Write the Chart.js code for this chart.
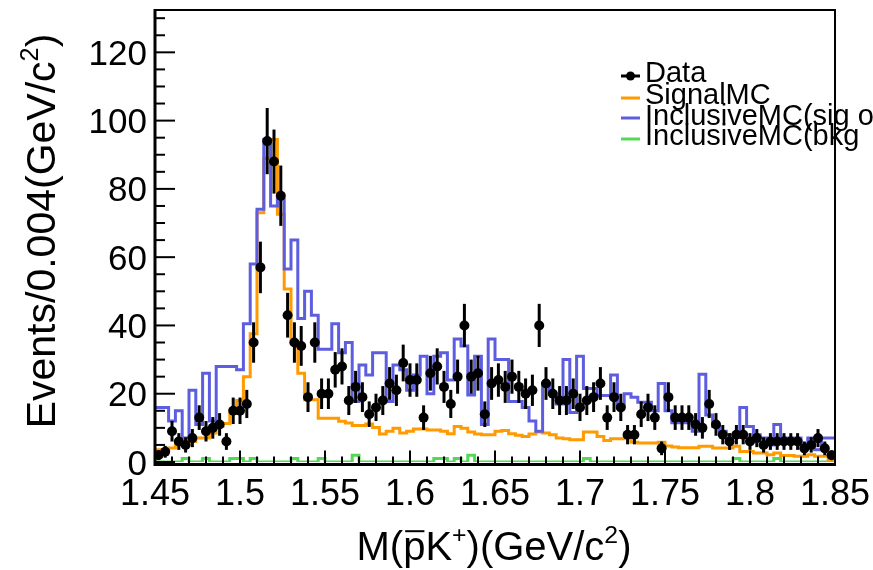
<!DOCTYPE html>
<html>
<head>
<meta charset="utf-8">
<script src="https://cdn.jsdelivr.net/npm/chart.js@4.4.1/dist/chart.umd.min.js"></script>
<style>
  html, body { margin: 0; padding: 0; background: #fff; }
  canvas { display: block; }
</style>
</head>
<body>
<canvas id="massChart" width="873" height="570"></canvas>
<script>
// histogram binning: 100 bins of 0.004 GeV/c2 from 1.45 to 1.85
const binStart = 1.45;
const binWidth = 0.004;

const xTickValues = [1.45, 1.5, 1.55, 1.6, 1.65, 1.7, 1.75, 1.8, 1.85];
const xTickLabels = ['1.45', '1.5', '1.55', '1.6', '1.65', '1.7', '1.75', '1.8', '1.85'];
const yTickValues = [0, 20, 40, 60, 80, 100, 120];
const yTickLabels = ['0', '20', '40', '60', '80', '100', '120'];

const legendLabels = ['Data', 'SignalMC', 'InclusiveMC(sig only)', 'InclusiveMC(bkg'];

// data counts per bin
const dataCounts = [
  2, 3, 9, 6, 5, 7, 13, 9, 10, 11, 6, 15, 15, 17, 35, 57, 94, 88, 78, 43,
  35, 34, 19, 35, 20, 20, 27, 28, 18, 22, 19, 14, 16, 18, 23, 21, 29, 24, 24, 13,
  26, 28, 22, 17, 25, 40, 25, 26, 14, 23, 24, 22, 25, 22, 20, 21, 40, 23, 20, 18,
  18, 20, 16, 18, 19, 23, 13, 19, 16, 8, 8, 14, 16, 13, 4, 19, 13, 13, 13, 11,
  10, 17, 11, 8, 6, 8, 8, 6, 7, 5, 6, 6, 6, 6, 6, 4, 5, 7, 4, 2
];

// signal MC
const signalMC = [
  3.6, 3.6, 4.1, 5.1, 5.1, 6, 7, 7, 8.5, 10.4, 11.3, 14.3, 18, 25, 37.6, 73, 89, 94.5, 72.6, 50.7,
  35, 26, 18.2, 18.2, 12.8, 12.8, 12.8, 11.9, 11.4, 10.7, 10.7, 11.1, 10.1, 8.2, 9, 9.9, 8.5, 9, 9.7, 9.7,
  9.4, 9.4, 9, 8.3, 10.4, 9.9, 8.8, 8.2, 8, 8, 9, 9.2, 8.3, 7.8, 7.5, 8.2, 8.8, 8.5, 8, 7,
  6.8, 6.5, 6.5, 8.8, 8.8, 7.5, 6.3, 6.8, 6.8, 7.2, 5.8, 5.6, 5.6, 5.6, 5.8, 4.7, 4.4, 4.2, 4.2, 4.2,
  4.6, 4.6, 4.1, 4.1, 4.1, 4.6, 3.1, 3.1, 2.6, 2.6, 2.1, 2.6, 1.9, 1.9, 1.7, 1.7, 2.1, 1.7, 1.7, 0.7
];

// inclusive MC, signal channel
const inclusiveSig = [
  16, 16, 12, 15, 7, 21, 11, 26, 12, 28, 28, 28, 27, 40.5, 58, 74, 94.5, 75, 77, 56.5,
  65, 42, 50, 43, 33, 33, 40.5, 32, 35, 17.7, 28.4, 25.5, 32, 32, 17.7, 28.4, 27, 21, 25.5, 31,
  20, 31, 32, 24, 36, 34, 19.6, 31, 11, 36, 30, 30, 17.7, 17.7, 16, 12, 9, 23, 20, 17,
  30, 14.5, 31, 21.5, 21.5, 19.5, 19.5, 25.5, 16.5, 20, 19, 17.5, 17.5, 15, 23, 15, 11.5, 11.5, 11.5, 9,
  25.7, 13.8, 10.4, 9, 8, 7.5, 16, 10.4, 8, 7, 5, 11, 7, 7, 7, 4, 7, 3.6, 7, 7
];

// inclusive MC, background
const inclusiveBkg = [
  0, 0, 0, 0, 1, 0, 0, 1, 0, 0, 0, 1, 1, 0, 1, 0, 0, 0, 0, 0,
  1, 0, 0, 0, 1, 0, 0, 0, 0, 2, 0, 0, 0, 0, 0, 0, 0, 0, 0, 0,
  0, 1, 1, 0, 1, 0, 2, 0, 0, 0, 0, 0, 0, 0, 0, 0, 0, 0, 0, 0,
  0, 0, 0, 1, 0, 0, 0, 0, 0, 0, 0, 0, 0, 0, 0, 0, 0, 0, 0, 0,
  0, 0, 0, 0, 0, 1, 0, 0, 0, 0, 0, 1, 0, 0, 0, 0, 0, 0, 0, 0
];

const colData = '#000000';
const colSignal = '#ff9a00';
const colSig = '#5d5de0';
const colBkg = '#55d855';
const fontFam = '"Liberation Sans", Arial, Helvetica, sans-serif';

// step outline: one point per left bin edge plus the closing right edge
function histPoints(values) {
  const pts = values.map((v, i) => ({ x: binStart + binWidth * i, y: v }));
  pts.push({ x: binStart + binWidth * values.length, y: values[values.length - 1] });
  return pts;
}

const dataPoints = dataCounts.map((v, i) => ({ x: binStart + binWidth * (i + 0.5), y: v }));

function histSet(label, values, color) {
  return {
    type: 'line',
    label: label,
    data: histPoints(values),
    borderColor: color,
    borderWidth: 3,
    stepped: 'before',
    pointRadius: 0,
    fill: false,
    borderJoinStyle: 'miter'
  };
}

// text pieces with superscripts / overline
function drawRich(ctx, parts, x, y, size, align) {
  let total = 0;
  parts.forEach(p => {
    ctx.font = (p.sup ? size * 0.62 : size) + 'px ' + fontFam;
    p.w = ctx.measureText(p.t).width;
    total += p.w;
  });
  let cx = align === 'center' ? x - total / 2 : x;
  parts.forEach(p => {
    ctx.font = (p.sup ? size * 0.62 : size) + 'px ' + fontFam;
    const dy = p.sup ? -size * 0.42 : 0;
    ctx.fillText(p.t, cx, y + dy);
    if (p.bar) {
      ctx.save();
      ctx.lineWidth = 2;
      ctx.beginPath();
      ctx.moveTo(cx + 2, y - size * 0.72);
      ctx.lineTo(cx + p.w - 1, y - size * 0.72);
      ctx.stroke();
      ctx.restore();
    }
    cx += p.w;
  });
}

const errorBars = {
  id: 'errorBars',
  beforeDatasetDraw(chart, args) {
    if (args.index !== 0) return;
    const ctx = chart.ctx;
    const xs = chart.scales.x, ys = chart.scales.y;
    const a = chart.chartArea;
    ctx.save();
    ctx.beginPath();
    ctx.rect(a.left, a.top, a.right - a.left, a.bottom - a.top + 2);
    ctx.clip();
    ctx.strokeStyle = colData;
    ctx.lineWidth = 3;
    dataCounts.forEach((n, i) => {
      const e = Math.sqrt(n);
      const px = xs.getPixelForValue(binStart + binWidth * (i + 0.5));
      ctx.beginPath();
      ctx.moveTo(px, ys.getPixelForValue(n - e));
      ctx.lineTo(px, ys.getPixelForValue(n + e));
      ctx.stroke();
    });
    ctx.restore();
  }
};

const frameAndText = {
  id: 'frameAndText',
  afterDraw(chart) {
    const ctx = chart.ctx;
    const xs = chart.scales.x, ys = chart.scales.y;
    const a = chart.chartArea;
    const axisY = a.bottom + 2.5;
    ctx.save();
    ctx.strokeStyle = '#000';
    ctx.fillStyle = '#000';

    // ticks (inside the frame, ROOT style)
    ctx.lineWidth = 2;
    for (let k = 0; k <= 40; k++) {
      const v = 1.45 + 0.01 * k;
      const px = xs.getPixelForValue(v);
      const len = k % 5 === 0 ? 14 : 8;
      ctx.beginPath();
      ctx.moveTo(px, axisY);
      ctx.lineTo(px, axisY - len);
      ctx.stroke();
    }
    for (let v = 0; v <= 130; v += 5) {
      const py = ys.getPixelForValue(v);
      const len = v % 20 === 0 ? 20 : 10;
      ctx.beginPath();
      ctx.moveTo(a.left, py);
      ctx.lineTo(a.left + len, py);
      ctx.stroke();
    }

    // frame
    ctx.lineWidth = 2;
    ctx.beginPath();
    ctx.moveTo(a.left, a.top);
    ctx.lineTo(a.right, a.top);
    ctx.lineTo(a.right, axisY);
    ctx.stroke();
    ctx.lineWidth = 3;
    ctx.beginPath();
    ctx.moveTo(a.left, a.top - 1);
    ctx.lineTo(a.left, axisY);
    ctx.lineTo(a.right + 1, axisY);
    ctx.stroke();

    // tick labels
    ctx.font = '36px ' + fontFam;
    ctx.textAlign = 'center';
    ctx.textBaseline = 'alphabetic';
    xTickValues.forEach((v, i) => {
      ctx.fillText(xTickLabels[i], xs.getPixelForValue(v), 505);
    });
    ctx.font = '35px ' + fontFam;
    ctx.textAlign = 'right';
    yTickValues.forEach((v, i) => {
      ctx.fillText(yTickLabels[i], 147, ys.getPixelForValue(v) + 12.5);
    });

    // axis titles
    ctx.textAlign = 'left';
    drawRich(ctx, [
      { t: 'M(' }, { t: 'p', bar: true }, { t: 'K' }, { t: '+', sup: true },
      { t: ')(GeV/c' }, { t: '2', sup: true }, { t: ')' }
    ], 494, 560, 40, 'center');

    ctx.save();
    ctx.translate(55, 231);
    ctx.rotate(-Math.PI / 2);
    drawRich(ctx, [
      { t: 'Events/0.004(GeV/c' }, { t: '2', sup: true }, { t: ')' }
    ], 0, 0, 41, 'center');
    ctx.restore();

    // legend
    const rows = [
      { y: 76, base: 82, color: colData, dot: true },
      { y: 98, base: 104, color: colSignal },
      { y: 118, base: 125, color: colSig },
      { y: 139, base: 145, color: colBkg }
    ];
    ctx.font = '29px ' + fontFam;
    ctx.textAlign = 'left';
    rows.forEach((r, i) => {
      ctx.strokeStyle = r.color;
      ctx.lineWidth = 3;
      ctx.beginPath();
      ctx.moveTo(621, r.y);
      ctx.lineTo(640, r.y);
      ctx.stroke();
      if (r.dot) {
        ctx.beginPath();
        ctx.arc(630.5, r.y, 4.5, 0, Math.PI * 2);
        ctx.fill();
      }
      ctx.fillStyle = '#000';
      ctx.fillText(legendLabels[i], 645, r.base);
    });
    ctx.restore();
  }
};

const ctx = document.getElementById('massChart').getContext('2d');
const massChart = new Chart(ctx, {
  type: 'line',
  data: {
    datasets: [
      {
        type: 'scatter',
        label: legendLabels[0],
        data: dataPoints,
        showLine: false,
        pointRadius: 5,
        pointHoverRadius: 5,
        pointBackgroundColor: colData,
        pointBorderColor: colData,
        pointBorderWidth: 0
      },
      histSet(legendLabels[2], inclusiveSig, colSig),
      histSet(legendLabels[1], signalMC, colSignal),
      histSet(legendLabels[3], inclusiveBkg, colBkg)
    ]
  },
  options: {
    responsive: false,
    animation: false,
    devicePixelRatio: 1,
    layout: { padding: { left: 155, top: 10, right: 38, bottom: 108 } },
    plugins: { legend: { display: false }, tooltip: { enabled: false } },
    scales: {
      x: { type: 'linear', min: 1.45, max: 1.85, display: false },
      y: { type: 'linear', min: 0, max: 132.4, display: false }
    }
  },
  plugins: [errorBars, frameAndText]
});
</script>
</body>
</html>
